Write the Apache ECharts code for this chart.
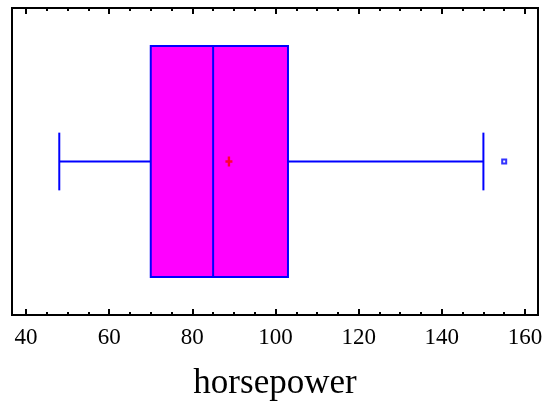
<!DOCTYPE html>
<html>
<head>
<meta charset="utf-8">
<script src="https://cdn.jsdelivr.net/npm/echarts@6/dist/echarts.min.js"></script>
<style>
  html, body { margin: 0; padding: 0; background: #fff; }
  #chart { width: 546px; height: 403px; }
</style>
</head>
<body>
<div id="chart"></div>
<script>
// Box-and-whisker summary of horsepower
const variableName = 'horsepower';
const categories = ['horsepower'];
// lower whisker, Q1, median, Q3, upper whisker
const fiveNumber = [48, 70, 85, 103, 150];
const meanValue = [88.8];
const outlierValues = [155];
const tickLabels = [40, 60, 80, 100, 120, 140, 160];
const minorTickStep = 5;
const axisRange = [36.63, 163.13];

const minorTicks = [];
for (let v = tickLabels[0] - minorTickStep; v <= tickLabels[tickLabels.length - 1]; v += minorTickStep) {
  if (v >= axisRange[0] && tickLabels.indexOf(v) < 0) minorTicks.push(v);
}

const serif = 'Liberation Serif';
const blue = '#0000ff';

function tickAxis(position, values, length, extra) {
  return Object.assign({
    type: 'value',
    gridIndex: 0,
    position: position,
    min: axisRange[0],
    max: axisRange[1],
    axisLine: { show: false },
    splitLine: { show: false },
    axisTick: { show: true, inside: true, length: length, customValues: values,
                lineStyle: { color: '#000', width: 2 } },
    axisLabel: { show: false }
  }, extra || {});
}

const chart = echarts.init(document.getElementById('chart'), null, { renderer: 'canvas' });

chart.setOption({
  animation: false,
  backgroundColor: '#fff',
  grid: {
    left: 12, right: 8, top: 8, bottom: 88,
    show: true, borderColor: '#000', borderWidth: 2,
    containLabel: false, outerBoundsMode: 'none'
  },
  xAxis: [
    tickAxis('bottom', tickLabels, 6, {
      axisLabel: {
        show: true, customValues: tickLabels, margin: 11,
        fontFamily: serif, fontSize: 23, color: '#000'
      },
      name: variableName,
      nameLocation: 'middle',
      nameGap: 51,
      nameTextStyle: { fontFamily: serif, fontSize: 35, color: '#000' }
    }),
    tickAxis('bottom', minorTicks, 3),
    tickAxis('top', tickLabels, 6),
    tickAxis('top', minorTicks, 3)
  ],
  yAxis: {
    type: 'category',
    data: categories,
    show: false,
    boundaryGap: true
  },
  series: [
    {
      type: 'custom',
      xAxisIndex: 0,
      encode: { x: [0, 1, 2, 3, 4], y: 5 },
      data: [fiveNumber.concat([0])],
      renderItem: function (params, api) {
        const yIdx = api.value(5);
        const lo = api.coord([api.value(0), yIdx]);
        const q1 = api.coord([api.value(1), yIdx]);
        const md = api.coord([api.value(2), yIdx]);
        const q3 = api.coord([api.value(3), yIdx]);
        const hi = api.coord([api.value(4), yIdx]);
        const band = api.size([0, 1])[1];
        const cy = lo[1];
        const hb = band * 0.3766;
        const hc = band * 0.094;
        const ls = { stroke: blue, lineWidth: 2 };
        return {
          type: 'group',
          children: [
            { type: 'line', shape: { x1: lo[0], y1: cy, x2: q1[0], y2: cy }, style: ls },
            { type: 'line', shape: { x1: q3[0], y1: cy, x2: hi[0], y2: cy }, style: ls },
            { type: 'line', shape: { x1: lo[0], y1: cy - hc, x2: lo[0], y2: cy + hc }, style: ls },
            { type: 'line', shape: { x1: hi[0], y1: cy - hc, x2: hi[0], y2: cy + hc }, style: ls },
            { type: 'rect', shape: { x: q1[0], y: cy - hb, width: q3[0] - q1[0], height: 2 * hb },
              style: { fill: '#ff00ff', stroke: blue, lineWidth: 2 } },
            { type: 'line', shape: { x1: md[0], y1: cy - hb, x2: md[0], y2: cy + hb }, style: ls }
          ]
        };
      }
    },
    {
      type: 'scatter',
      xAxisIndex: 0,
      data: meanValue.map(function (v) { return [v, 0]; }),
      symbol: 'path://M2.3,0L4.7,0L4.7,3.8L7,3.8L7,6.2L4.7,6.2L4.7,10L2.3,10L2.3,6.2L0,6.2L0,3.8L2.3,3.8Z',
      symbolSize: [7, 10],
      itemStyle: { color: '#ff0000' },
      z: 5
    },
    {
      type: 'scatter',
      xAxisIndex: 0,
      data: outlierValues.map(function (v) { return [v, 0]; }),
      symbol: 'rect',
      symbolSize: 4,
      itemStyle: { color: '#ffffff', borderColor: blue, borderWidth: 2 },
      z: 5
    }
  ]
});
</script>
</body>
</html>
